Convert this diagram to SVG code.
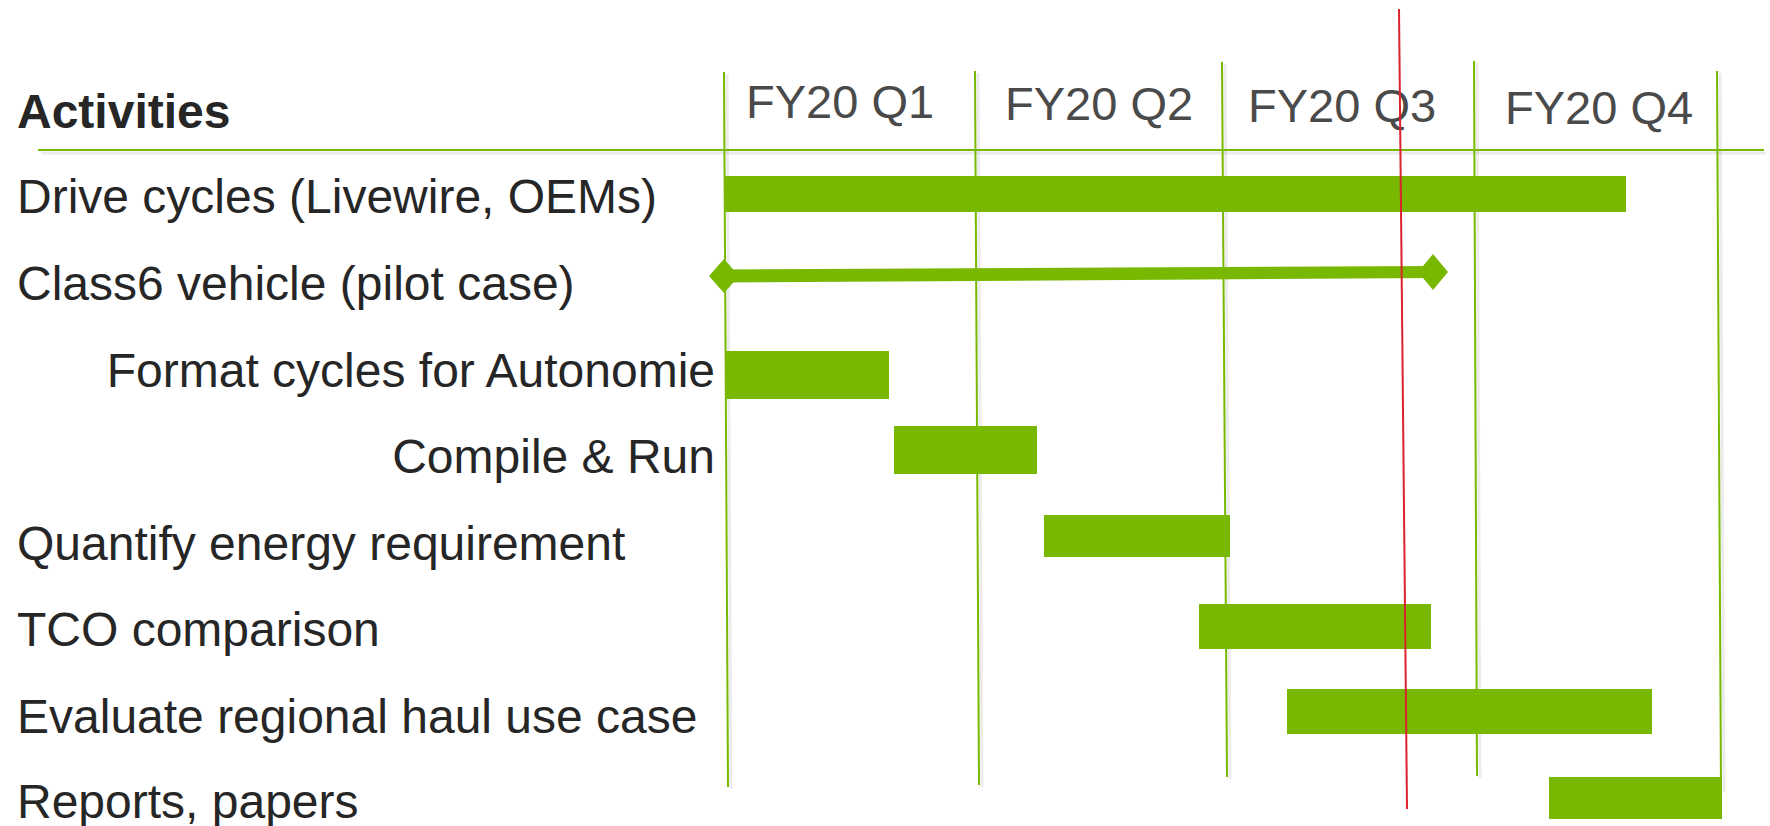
<svg xmlns="http://www.w3.org/2000/svg" width="1770" height="826" viewBox="0 0 1770 826">
<style>
.lbl{font-family:"Liberation Sans",Arial,sans-serif;font-size:48px;fill:#262626}
.hdr{font-family:"Liberation Sans",Arial,sans-serif;font-size:47px;fill:#4a4a4a}
.bold{font-weight:bold}
.bar{fill:#78b800}
.grid{stroke:#76b900;stroke-width:2;fill:none}
.sh{stroke:#000;stroke-opacity:0.08;stroke-width:3;fill:none}
</style>
<rect width="1770" height="826" fill="#fff"/>
<g id="connectors">
  <g id="grid-shadow">
    <line class="sh" x1="41" y1="153" x2="1766" y2="153"/>
    <line class="sh" x1="727" y1="74" x2="731" y2="789"/>
    <line class="sh" x1="978" y1="73" x2="982" y2="787"/>
    <line class="sh" x1="1225" y1="64" x2="1230" y2="779"/>
    <line class="sh" x1="1477" y1="63" x2="1480" y2="778"/>
    <line class="sh" x1="1720" y1="73" x2="1724" y2="792"/>
  </g>
  <line id="header-rule" class="grid" x1="38" y1="150" x2="1764" y2="150" stroke-width="2.5"/>
  <line id="q1-start" class="grid" x1="724" y1="72" x2="728" y2="787"/>
  <line id="q2-start" class="grid" x1="975" y1="71" x2="979" y2="785"/>
  <line id="q3-start" class="grid" x1="1222" y1="62" x2="1227" y2="777"/>
  <line id="q4-start" class="grid" x1="1474" y1="61" x2="1477" y2="776"/>
  <line id="q4-end" class="grid" x1="1717" y1="71" x2="1721" y2="790"/>
</g>
<g id="header">
  <text class="lbl bold" x="17" y="128" font-size="47">Activities</text>
  <text class="hdr" x="746" y="118">FY20 Q1</text>
  <text class="hdr" x="1005" y="120">FY20 Q2</text>
  <text class="hdr" x="1248" y="122">FY20 Q3</text>
  <text class="hdr" x="1505" y="124">FY20 Q4</text>
</g>
<g id="drive-cycles">
  <text class="lbl" x="17" y="213">Drive cycles (Livewire, OEMs)</text>
  <rect class="bar" x="724" y="176" width="902" height="36"/>
</g>
<g id="class6-vehicle">
  <text class="lbl" x="17" y="300">Class6 vehicle (pilot case)</text>
  <polygon class="bar" points="724,269.5 1433,266 1433,278 724,282.5"/>
  <polygon class="bar" points="709,276 724,259 739,276 724,293"/>
  <polygon class="bar" points="1418,272 1433,254 1448,272 1433,290"/>
</g>
<g id="format-cycles">
  <text class="lbl" x="715" y="387" text-anchor="end">Format cycles for Autonomie</text>
  <rect class="bar" x="725" y="351" width="164" height="48"/>
</g>
<g id="compile-run">
  <text class="lbl" x="715" y="473" text-anchor="end">Compile &amp; Run</text>
  <rect class="bar" x="894" y="426" width="143" height="48"/>
</g>
<g id="quantify-energy">
  <text class="lbl" x="17" y="560">Quantify energy requirement</text>
  <rect class="bar" x="1044" y="515" width="186" height="42"/>
</g>
<g id="tco-comparison">
  <text class="lbl" x="17" y="646">TCO comparison</text>
  <rect class="bar" x="1199" y="604" width="232" height="45"/>
</g>
<g id="evaluate-regional">
  <text class="lbl" x="17" y="733">Evaluate regional haul use case</text>
  <rect class="bar" x="1287" y="689" width="365" height="45"/>
</g>
<g id="reports-papers">
  <text class="lbl" x="17" y="818">Reports, papers</text>
  <rect class="bar" x="1549" y="777" width="173" height="42"/>
</g>
<g id="today-marker">
  <line x1="1399" y1="9" x2="1407" y2="809" stroke="#d9232e" stroke-width="2"/>
</g>
</svg>
